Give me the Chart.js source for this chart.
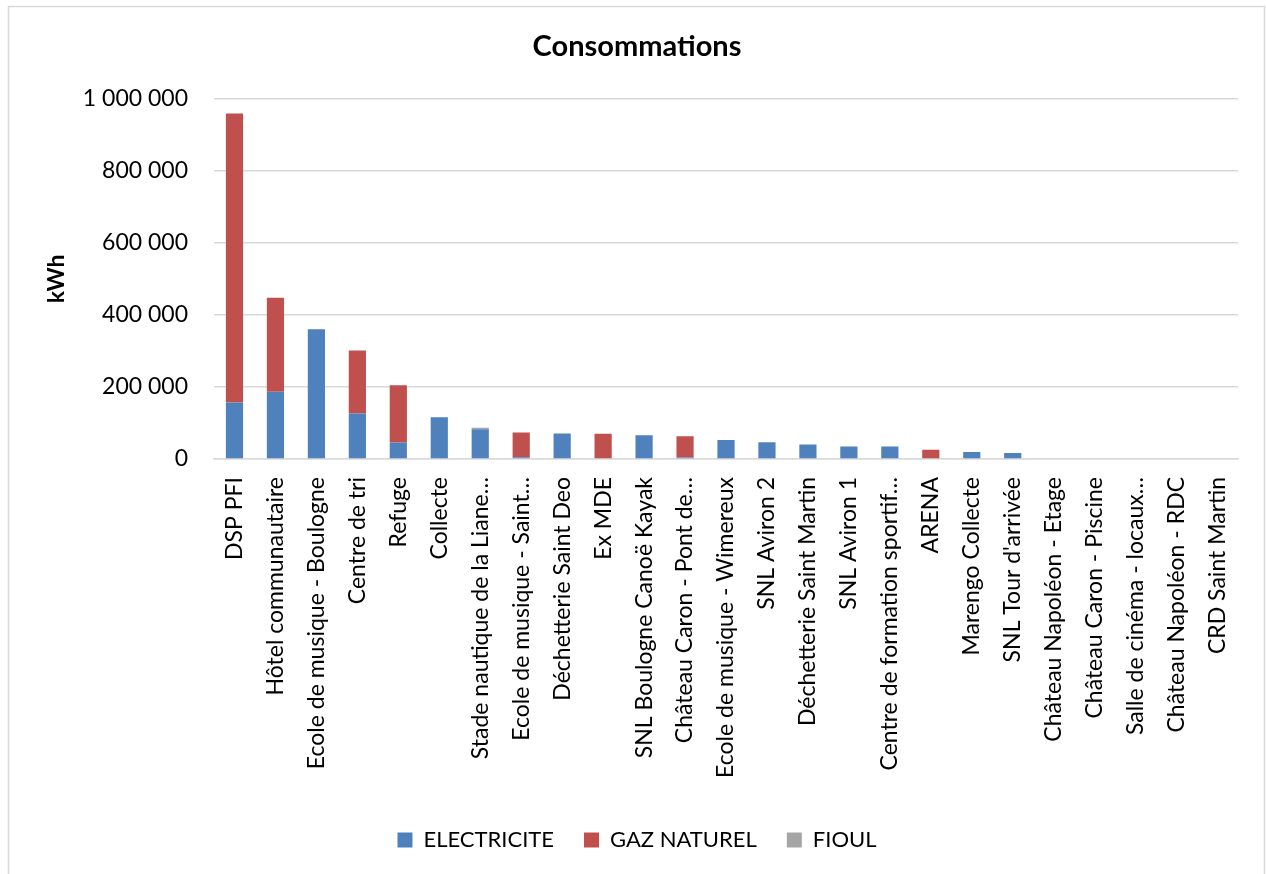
<!DOCTYPE html>
<html>
<head>
<meta charset="utf-8">
<script src="https://cdn.jsdelivr.net/npm/chart.js@4"></script>
<style>
  html, body { margin: 0; padding: 0; background: #fff; }
  #wrap { position: absolute; left: 0; top: 0; width: 1266px; height: 874px; }
</style>
</head>
<body>
<div id="wrap"><canvas id="chart" width="1266" height="874"></canvas></div>
<script>
// Sites
const categories = [
  "DSP PFI",
  "Hôtel communautaire",
  "Ecole de musique - Boulogne",
  "Centre de tri",
  "Refuge",
  "Collecte",
  "Stade nautique de la Liane…",
  "Ecole de musique - Saint…",
  "Déchetterie Saint Deo",
  "Ex MDE",
  "SNL Boulogne Canoë Kayak",
  "Château Caron - Pont de…",
  "Ecole de musique - Wimereux",
  "SNL Aviron 2",
  "Déchetterie Saint Martin",
  "SNL Aviron 1",
  "Centre de formation sportif…",
  "ARENA",
  "Marengo Collecte",
  "SNL Tour d'arrivée",
  "Château Napoléon - Etage",
  "Château Caron - Piscine",
  "Salle de cinéma - locaux…",
  "Château Napoléon - RDC",
  "CRD Saint Martin"
];

// Consommations par énergie (kWh)
const electricite = [157000, 187000, 360000, 126000, 45500, 116000, 82500, 5000, 70500, 0,
                     66000, 4000, 53000, 46500, 40000, 35000, 34500, 0, 19500, 17000,
                     0, 0, 0, 0, 0];
const gazNaturel  = [802000, 260500, 0, 175500, 159000, 0, 0, 68500, 0, 70000,
                     0, 59000, 0, 0, 0, 0, 0, 26000, 0, 0,
                     0, 0, 0, 0, 0];
const fioul       = [0, 0, 0, 0, 0, 0, 4500, 0, 0, 0,
                     0, 0, 0, 0, 0, 0, 0, 0, 0, 0,
                     0, 0, 0, 0, 0];

const seriesNames = ["ELECTRICITE", "GAZ NATUREL", "FIOUL"];
const yTicks = [0, 200000, 400000, 600000, 800000, 1000000];

const FONT = "Lato, 'Open Sans', sans-serif";

function fmt(v) {
  return String(v).replace(/\B(?=(\d{3})+(?!\d))/g, " ");
}

// Outer frame of the chart
const framePlugin = {
  id: "frame",
  beforeDraw(chart) {
    const ctx = chart.ctx;
    ctx.save();
    ctx.fillStyle = "#ffffff";
    ctx.fillRect(0, 0, chart.width, chart.height);
    ctx.strokeStyle = "#d9d9d9";
    ctx.lineWidth = 1.5;
    ctx.beginPath();
    ctx.moveTo(8.5, chart.height + 2);
    ctx.lineTo(8.5, 6.5);
    ctx.lineTo(1264.5, 6.5);
    ctx.lineTo(1264.5, chart.height + 2);
    ctx.stroke();
    ctx.restore();
  }
};

new Chart(document.getElementById("chart"), {
  type: "bar",
  data: {
    labels: categories,
    datasets: [
      { label: seriesNames[0], data: electricite, backgroundColor: "#4f81bd" },
      { label: seriesNames[1], data: gazNaturel,  backgroundColor: "#c0504d" },
      { label: seriesNames[2], data: fioul,       backgroundColor: "#a5a5a5" }
    ]
  },
  options: {
    responsive: false,
    animation: false,
    devicePixelRatio: 1,
    layout: { padding: { left: 36, right: 28, top: 0, bottom: 13 } },
    datasets: {
      bar: { categoryPercentage: 1.0, barPercentage: 0.42, borderWidth: 0 }
    },
    plugins: {
      title: {
        display: true,
        text: "Consommations",
        color: "#000",
        font: { family: FONT, size: 29, weight: "bold", lineHeight: 1.2 },
        padding: { top: 29, bottom: 35 }
      },
      legend: {
        position: "bottom",
        labels: {
          color: "#000",
          font: { family: FONT, size: 22 },
          boxWidth: 15,
          boxHeight: 15,
          padding: 30
        }
      },
      tooltip: { enabled: false }
    },
    scales: {
      x: {
        stacked: true,
        grid: { display: false, drawTicks: false },
        border: { display: true, color: "#d9d9d9", width: 1.5 },
        ticks: {
          autoSkip: false,
          maxRotation: 90,
          minRotation: 90,
          padding: 18,
          color: "#000",
          font: { family: FONT, size: 23 }
        },
        afterFit(scale) { scale.height = 340; }
      },
      y: {
        stacked: true,
        min: 0,
        max: 1000000,
        afterBuildTicks(scale) { scale.ticks = yTicks.map(v => ({ value: v })); },
        grid: { color: "#d9d9d9", lineWidth: 1.5, drawTicks: false },
        border: { display: false },
        ticks: {
          padding: 26,
          color: "#000",
          font: { family: FONT, size: 23 },
          callback: v => fmt(v)
        },
        title: {
          display: true,
          text: "kWh",
          color: "#000",
          font: { family: FONT, size: 23, weight: "bold" },
          padding: { top: 7, bottom: 0 }
        },
        afterFit(scale) { scale.width = 214 - 36; }
      }
    }
  },
  plugins: [framePlugin]
});
</script>
</body>
</html>
